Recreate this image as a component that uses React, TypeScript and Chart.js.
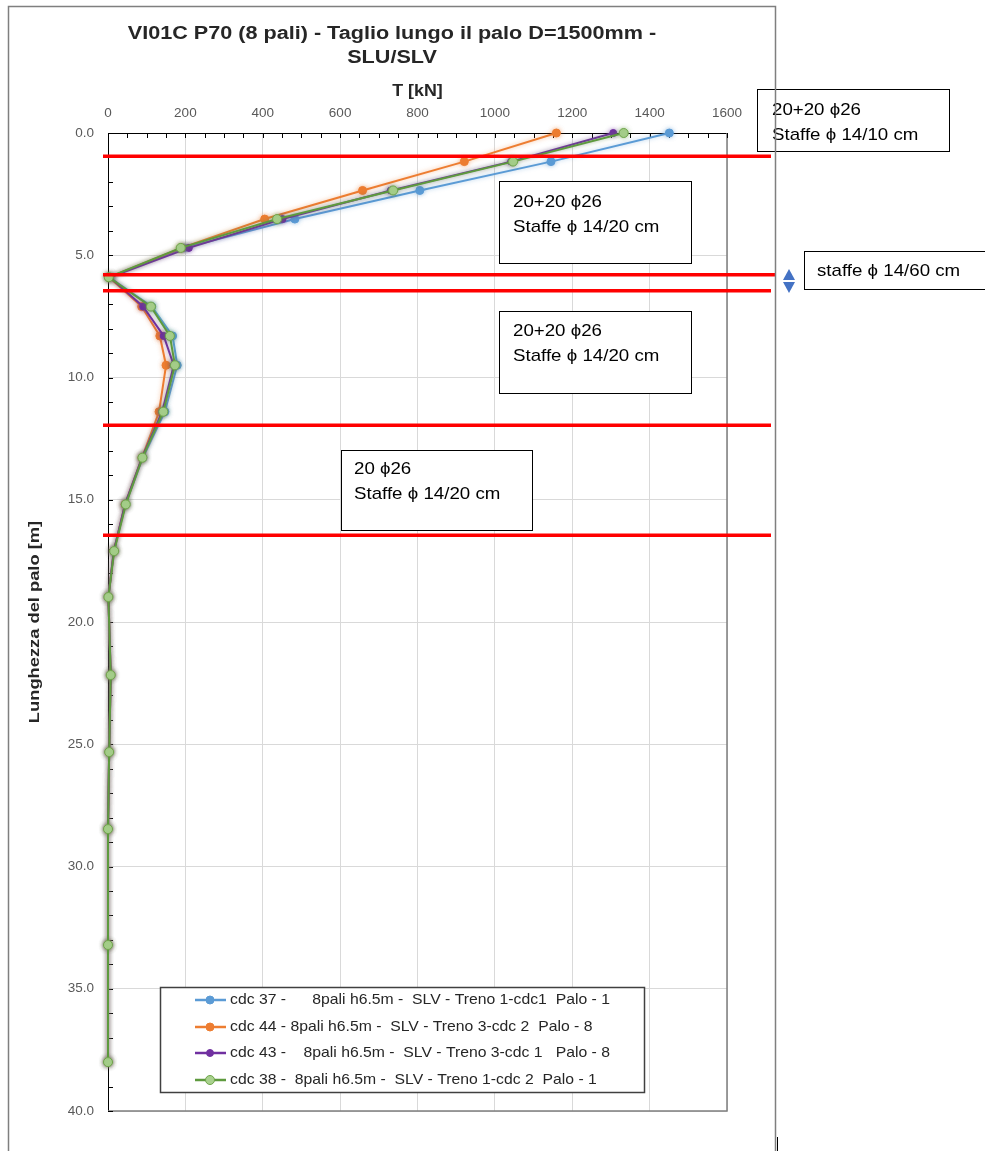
import React, { useEffect, useRef } from "react";
import { Chart, registerables } from "chart.js";

Chart.register(...registerables);

// ---------- DATA ----------
const depths = [0, 1.17, 2.35, 3.52, 4.7, 5.9, 7.1, 8.3, 9.5, 11.4, 13.28, 15.19, 17.1, 18.98, 22.17, 25.32, 28.47, 33.21, 38.0];
const cdc37 = [1451, 1145, 806, 483, 196, 3, 113, 167, 179, 147, 90, 45, 15, 1, 7, 3, 0, 0, 0];
const cdc44 = [1159, 921, 658, 405, 190, 3, 87, 134, 150, 132, 88, 44, 15, 1, 7, 3, 0, 0, 0];
const cdc43 = [1306, 1042, 731, 451, 209, 5, 91, 144, 170, 140, 88, 44, 15, 1, 7, 3, 0, 0, 0];
const cdc38 = [1333, 1047, 737, 437, 188, 2, 111, 160, 173, 143, 89, 46, 16, 1, 7, 3, 0, 0, 0];

const seriesLabels = [
  "cdc 37 -      8pali h6.5m -  SLV - Treno 1-cdc1  Palo - 1",
  "cdc 44 - 8pali h6.5m -  SLV - Treno 3-cdc 2  Palo - 8",
  "cdc 43 -    8pali h6.5m -  SLV - Treno 3-cdc 1   Palo - 8",
  "cdc 38 -  8pali h6.5m -  SLV - Treno 1-cdc 2  Palo - 1",
];

const titleLines = ["VI01C P70 (8 pali) - Taglio lungo il palo D=1500mm -", "SLU/SLV"];
const xAxisTitle = "T [kN]";
const yAxisTitle = "Lunghezza del palo [m]";

const xTicks = { min: 0, max: 1600, step: 200, minor: 50 };
const yTicks = { min: 0, max: 40, step: 5, minor: 1 };

// depths of the reinforcement section changes (red lines)
const sectionLimits = [0.95, 5.8, 6.45, 11.95, 16.45];

const noteTexts = [
  ["20+20 \u03D526", "Staffe \u03D5 14/10 cm"],
  ["20+20 \u03D526", "Staffe \u03D5 14/20 cm"],
  ["staffe \u03D5 14/60 cm"],
  ["20+20 \u03D526", "Staffe \u03D5 14/20 cm"],
  ["20 \u03D526", "Staffe \u03D5 14/20 cm"],
];

// ---------- STYLE ----------
const FONT = "Arial, 'Liberation Sans', sans-serif";
const seriesStyle = [
  { line: "#5B9BD5", fill: "#5B9BD5", border: "#5B9BD5", r: 4, order: 3 },
  { line: "#ED7D31", fill: "#ED7D31", border: "#ED7D31", r: 4, order: 2 },
  { line: "#7030A0", fill: "#7030A0", border: "#7030A0", r: 3.5, order: 1 },
  { line: "#5E9A3E", fill: "#A9D18E", border: "#6FA64A", r: 4.5, order: 0 },
];
const seriesData = [cdc37, cdc44, cdc43, cdc38];

function drawText(
  ctx: CanvasRenderingContext2D,
  s: string,
  x: number,
  y: number,
  font: string,
  color: string,
  align: CanvasTextAlign = "left",
  sx = 1
) {
  ctx.save();
  ctx.font = font;
  ctx.fillStyle = color;
  ctx.textBaseline = "middle";
  ctx.textAlign = align;
  ctx.translate(x, y);
  ctx.scale(sx, 1);
  ctx.fillText(s, 0, 0);
  ctx.restore();
}

const overlayPlugin = {
  id: "overlay",
  beforeDraw(chart: any) {
    const ctx = chart.ctx as CanvasRenderingContext2D;
    ctx.save();
    ctx.fillStyle = "#ffffff";
    ctx.fillRect(0, 0, chart.width, chart.height);
    ctx.restore();
  },
  beforeDatasetsDraw(chart: any) {
    const ctx = chart.ctx as CanvasRenderingContext2D;
    const { left, right, top, bottom } = chart.chartArea;
    const xs = chart.scales.x;
    const ys = chart.scales.y;
    ctx.save();
    // right & bottom plot border (grey)
    ctx.strokeStyle = "#7f7f7f";
    ctx.lineWidth = 1.5;
    ctx.beginPath();
    ctx.moveTo(left, bottom);
    ctx.lineTo(right, bottom);
    ctx.lineTo(right, top);
    ctx.stroke();
    // minor ticks (inside)
    ctx.strokeStyle = "#000000";
    ctx.lineWidth = 1;
    ctx.beginPath();
    for (let v = xTicks.min; v <= xTicks.max; v += xTicks.minor) {
      const px = Math.round(xs.getPixelForValue(v)) + 0.5;
      ctx.moveTo(px, top);
      ctx.lineTo(px, top + 5);
    }
    for (let v = yTicks.min; v <= yTicks.max; v += yTicks.minor) {
      const py = Math.round(ys.getPixelForValue(v)) + 0.5;
      ctx.moveTo(left, py);
      ctx.lineTo(left + 5, py);
    }
    ctx.stroke();
    ctx.restore();
  },
  beforeDatasetDraw(chart: any, args: any) {
    const ctx = chart.ctx as CanvasRenderingContext2D;
    const st = seriesStyle[args.index];
    ctx.save();
    ctx.shadowColor = st.line + "80";
    ctx.shadowBlur = 4;
  },
  afterDatasetDraw(chart: any) {
    chart.ctx.restore();
  },
  afterDatasetsDraw(chart: any) {
    const ctx = chart.ctx as CanvasRenderingContext2D;
    const xs = chart.scales.x;
    const ys = chart.scales.y;
    const x0 = xs.getPixelForValue(0);
    // red section lines
    ctx.save();
    ctx.strokeStyle = "#FF0000";
    ctx.lineWidth = 3.5;
    sectionLimits.forEach((d, i) => {
      const py = ys.getPixelForValue(d);
      ctx.beginPath();
      ctx.moveTo(x0 - 5, py);
      ctx.lineTo(i === 1 ? 775 : 771, py);
      ctx.stroke();
    });
    ctx.restore();

    // annotation boxes
    const noteFont = `17px ${FONT}`;
    const boxes = [
      { x: 757, y: 89, w: 192, h: 62, tx: 772, ty: [110, 135] },
      { x: 499, y: 181, w: 192, h: 82, tx: 513, ty: [202, 227] },
      { x: 804, y: 251, w: 200, h: 38, tx: 817, ty: [271] },
      { x: 499, y: 311, w: 192, h: 82, tx: 513, ty: [331, 356] },
      { x: 341, y: 450, w: 191, h: 80, tx: 354, ty: [469, 494] },
    ];
    ctx.save();
    boxes.forEach((b, i) => {
      ctx.fillStyle = "#ffffff";
      ctx.fillRect(b.x, b.y, b.w, b.h);
      ctx.strokeStyle = "#000000";
      ctx.lineWidth = 1;
      ctx.strokeRect(b.x + 0.5, b.y + 0.5, b.w, b.h);
      noteTexts[i].forEach((t, k) => drawText(ctx, t, b.tx, b.ty[k], noteFont, "#000000", "left", 1.1));
    });
    // blue double arrow
    const ax = 789;
    ctx.fillStyle = "#4472C4";
    ctx.beginPath();
    ctx.moveTo(ax, 269);
    ctx.lineTo(ax + 6, 280);
    ctx.lineTo(ax - 6, 280);
    ctx.closePath();
    ctx.fill();
    ctx.beginPath();
    ctx.moveTo(ax, 293);
    ctx.lineTo(ax + 6, 282);
    ctx.lineTo(ax - 6, 282);
    ctx.closePath();
    ctx.fill();
    ctx.restore();
  },
  afterDraw(chart: any) {
    const ctx = chart.ctx as CanvasRenderingContext2D;
    const { left, right, top, bottom } = chart.chartArea;
    // titles
    drawText(ctx, titleLines[0], 392, 34, `bold 18px ${FONT}`, "#262626", "center", 1.2);
    drawText(ctx, titleLines[1], 392, 58, `bold 18px ${FONT}`, "#262626", "center", 1.2);
    drawText(ctx, xAxisTitle, (left + right) / 2, 91, `bold 17px ${FONT}`, "#262626", "center", 1.05);
    ctx.save();
    ctx.translate(35, (top + bottom) / 2);
    ctx.rotate(-Math.PI / 2);
    drawText(ctx, yAxisTitle, 0, 0, `bold 15px ${FONT}`, "#262626", "center", 1.22);
    ctx.restore();

    // legend
    const lx = 160, ly = 987, lw = 484, lh = 105;
    ctx.save();
    ctx.fillStyle = "#ffffff";
    ctx.fillRect(lx, ly, lw, lh);
    ctx.strokeStyle = "#404040";
    ctx.lineWidth = 1.5;
    ctx.strokeRect(lx + 0.5, ly + 0.5, lw, lh);
    const rowsY = [1000, 1027, 1053, 1080];
    seriesLabels.forEach((lab, i) => {
      const st = seriesStyle[i];
      const y = rowsY[i];
      ctx.strokeStyle = st.line;
      ctx.lineWidth = 2.5;
      ctx.beginPath();
      ctx.moveTo(195, y);
      ctx.lineTo(226, y);
      ctx.stroke();
      ctx.beginPath();
      ctx.arc(210, y, st.r, 0, Math.PI * 2);
      ctx.fillStyle = st.fill;
      ctx.fill();
      ctx.strokeStyle = st.border;
      ctx.lineWidth = 1;
      ctx.stroke();
      drawText(ctx, lab, 230, y, `15px ${FONT}`, "#262626", "left", 1.05);
    });
    ctx.restore();

    // outer frame
    ctx.save();
    ctx.strokeStyle = "#7f7f7f";
    ctx.lineWidth = 1.5;
    ctx.beginPath();
    ctx.moveTo(8.5, 1151);
    ctx.lineTo(8.5, 6.5);
    ctx.lineTo(775.5, 6.5);
    ctx.lineTo(775.5, 1151);
    ctx.stroke();
    ctx.strokeStyle = "#000000";
    ctx.lineWidth = 1;
    ctx.beginPath();
    ctx.moveTo(777.5, 1137);
    ctx.lineTo(777.5, 1151);
    ctx.stroke();
    ctx.restore();
  },
};

export default function App() {
  const ref = useRef<HTMLCanvasElement | null>(null);
  useEffect(() => {
    if (!ref.current) return;
    const chart = new Chart(ref.current, {
      type: "line",
      data: {
        datasets: seriesData.map((vals, i) => ({
          label: seriesLabels[i],
          data: vals.map((v, k) => ({ x: v, y: depths[k] })),
          borderColor: seriesStyle[i].line,
          backgroundColor: seriesStyle[i].fill,
          pointBackgroundColor: seriesStyle[i].fill,
          pointBorderColor: seriesStyle[i].border,
          pointBorderWidth: 1,
          pointRadius: seriesStyle[i].r,
          borderWidth: 2,
          tension: 0,
          fill: false,
          clip: false,
          order: seriesStyle[i].order,
        })),
      },
      options: {
        animation: false,
        responsive: false,
        devicePixelRatio: 1,
        layout: { padding: { left: 8, top: 73, right: 258, bottom: 40 } },
        plugins: {
          legend: { display: false },
          title: { display: false },
          tooltip: { enabled: false },
        },
        scales: {
          x: {
            type: "linear",
            position: "top",
            min: xTicks.min,
            max: xTicks.max,
            afterFit: (s: any) => {
              s.height = 60;
            },
            ticks: {
              stepSize: xTicks.step,
              color: "#595959",
              font: { family: FONT, size: 13.5 },
              padding: 12,
              maxRotation: 0,
              callback: (v: any) => String(v),
            },
            grid: { color: "#d9d9d9", lineWidth: 1, drawTicks: false },
            border: { color: "#000000", width: 1 },
          },
          y: {
            type: "linear",
            reverse: true,
            min: yTicks.min,
            max: yTicks.max,
            afterFit: (s: any) => {
              s.width = 100;
            },
            ticks: {
              stepSize: yTicks.step,
              color: "#595959",
              font: { family: FONT, size: 13.5 },
              padding: 14,
              callback: (v: any) => Number(v).toFixed(1),
            },
            grid: { color: "#d9d9d9", lineWidth: 1, drawTicks: false },
            border: { color: "#000000", width: 1 },
          },
        },
      },
      plugins: [overlayPlugin],
    });
    return () => chart.destroy();
  }, []);
  return (
    <div style={{ position: "absolute", left: 0, top: 0, width: 985, height: 1151 }}>
      <canvas ref={ref} width={985} height={1151} style={{ width: 985, height: 1151, display: "block" }} />
    </div>
  );
}
